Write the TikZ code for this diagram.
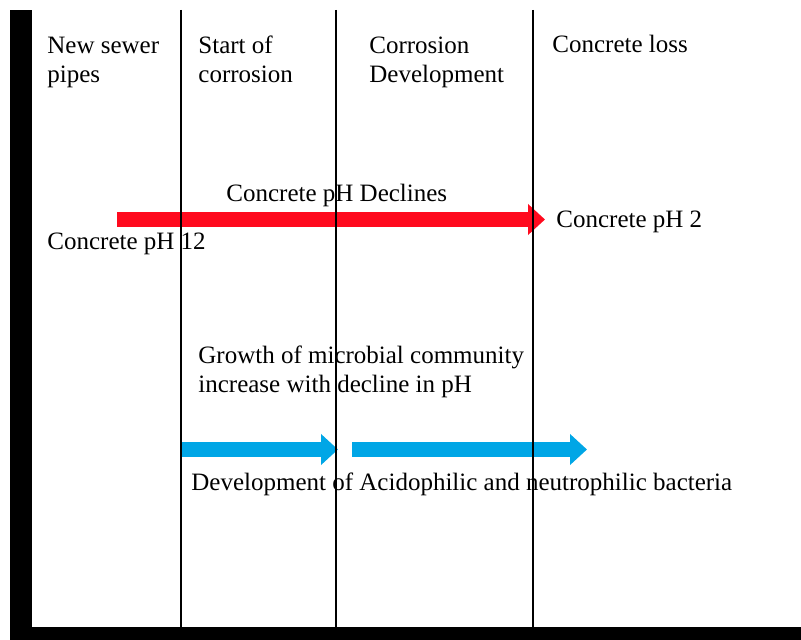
\documentclass[tikz,border=0pt]{standalone}
\usepackage{fontspec}
\setmainfont{Liberation Serif}
\usetikzlibrary{arrows.meta}
\usetikzlibrary{positioning}
\definecolor{phred}{RGB}{255,10,30}
\definecolor{bugblue}{RGB}{0,166,230}
\tikzstyle{note} = [inner sep=0pt, anchor=base west, align=left, font=\fontsize{12.5}{14.75}\selectfont]
\tikzstyle{redarrow} = [draw=phred, line width=7.5pt, -{Triangle[length=8.5pt,width=15pt]}]
\tikzstyle{bluearrow} = [draw=bugblue, line width=7.5pt, -{Triangle[length=8.5pt,width=15pt]}]
\tikzstyle{stage} = [line width=0.7pt]

\begin{document}
\begin{tikzpicture}[x=0.5pt, y=-0.5pt]
    \useasboundingbox (0,0) rectangle (801,640);

    % Stage headings
    \node (newpipes) [note] at (47,83) {New sewer\\pipes};
    \node (start) [note] at (198,83) {Start of\\corrosion};
    \node (develop) [note] at (369,83) {Corrosion\\Development};
    \node (loss) [note] at (552,53) {Concrete loss};

    % pH
    \node (declines) [note] at (226,202) {Concrete pH Declines};
    \node (ph12) [note] at (47,250) {Concrete pH 12};
    \node (ph2) [note] at (556,228) {Concrete pH 2};
    \coordinate (redstart) at (117,219.5);
    \coordinate (redend) at (545,219.5);
    \draw [redarrow] (redstart) -- (redend);

    % Bacteria
    \node (growth) [note] at (198,393) {Growth of microbial community\\increase with decline in pH};
    \node (bacteria) [note] at (191,490) {Development of Acidophilic and neutrophilic bacteria};
    \coordinate (blueA1) at (181,449.5);
    \coordinate (blueA2) at (338,449.5);
    \coordinate (blueB1) at (352,449.5);
    \coordinate (blueB2) at (587,449.5);
    \draw [bluearrow] (blueA1) -- (blueA2);
    \draw [bluearrow] (blueB1) -- (blueB2);

    % Stage lines and axes
    \foreach \x in {181,336,533}
        \draw [stage] (\x,10) -- (\x,627);
    \fill (10,10) rectangle (32,640);
    \fill (10,627) rectangle (801,640);

\end{tikzpicture}
\end{document}
